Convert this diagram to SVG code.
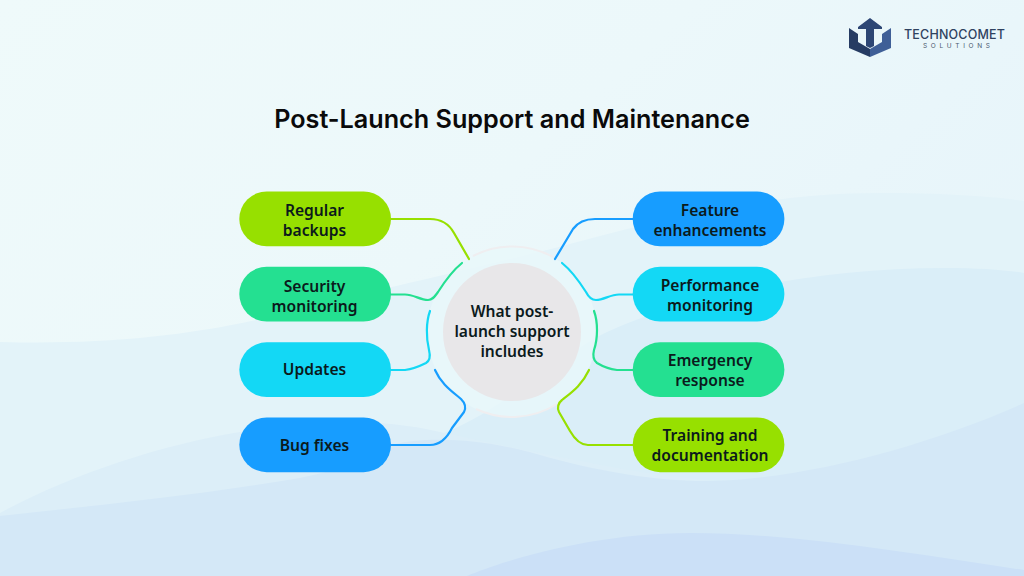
<svg xmlns="http://www.w3.org/2000/svg" width="1024" height="576" viewBox="0 0 1024 576">
<defs>
<linearGradient id="bg" x1="0" y1="0" x2="1" y2="0.6"><stop offset="0" stop-color="#effafa"/><stop offset="0.5" stop-color="#ecf8fa"/><stop offset="1" stop-color="#e6f4fa"/></linearGradient>
</defs>
<style>
.lbl{font-family:"Noto Sans","Liberation Sans",sans-serif;font-weight:600;font-size:15.6px;fill:#0b1a1c;text-anchor:middle}
.c{fill:none;stroke-width:2.2;stroke-linecap:round;stroke-linejoin:round}
.green{fill:#97e000}.teal{fill:#24e091}.cyan{fill:#13d8f5}.blue{fill:#179dff}
</style>
<rect width="1024" height="576" fill="url(#bg)"/>
<g id="background">
<path d="M0 342C110 345 200 335 290 312C400 284 470 270 555 248C650 222 760 193 880 193C940 193 990 196 1024 201V576H0Z" fill="#e3f3f9"/>
<path d="M0 560C160 520 330 470 433 437C490 418 540 372 597 337C660 305 790 268 945 268C980 268 1005 270 1024 273V576H0Z" fill="#daeef8"/>
<path d="M0 513C70 475 160 445 240 432C300 422 370 416 440 432C500 445 580 462 640 472L712 481C810 478 930 445 1024 403V576H0Z" fill="#dceef8"/>
<path d="M0 516C100 505 200 495 300 478C350 468 380 455 391 445C430 435 490 440 540 455C600 472 660 482 712 481C810 478 930 445 1024 403V576H0Z" fill="#d4e8f7"/>
<path d="M467 576C500 562 590 533 690 533C800 533 920 555 1024 570V576Z" fill="#cbe0f7"/>
</g>
<g id="title"><text x="512" y="127.500" font-family="Inter,'Liberation Sans',sans-serif" font-weight="600" font-size="25.2" fill="#0a0a0a" text-anchor="middle">Post-Launch Support and Maintenance</text></g>
<g id="logo">
<path d="M849 28L858 34V42L870 49V57L849 48Z" fill="#263c63"/>
<path d="M891 28L882 34V42L870 49V57L891 48Z" fill="#3f5f97"/>
<path d="M858 27L870 18L882 27V29H874V46L870 48L866 46V29H858Z" fill="#2d4674"/>
<text x="904" y="38.500" font-family="Inter,'Liberation Sans',sans-serif" font-weight="500" font-size="12.5" fill="#2f4260" textLength="101">TECHNOCOMET</text>
<text x="923" y="48" font-family="Inter,'Liberation Sans',sans-serif" font-size="6.500" fill="#4a5a70" textLength="67">SOLUTIONS</text>
</g>
<g id="center">
<circle cx="512" cy="332" r="85" fill="#e9f7fa" fill-opacity=".8"/>
<path d="M473 256A85 85 0 0 1 553 257M476 409A85 85 0 0 0 557 404" fill="none" stroke="#efeef0" stroke-width="2"/>
<circle cx="512" cy="332" r="69" fill="#e8e7e9"/>
<text class="lbl" x="512" y="317">What post-</text><text class="lbl" x="512" y="337">launch support</text><text class="lbl" x="512" y="357">includes</text>
</g>
<g id="connectors">
<path class="c" stroke="#97e000" d="M391 219H430C442 219 449 224 454 233L469 259"/>
<path class="c" stroke="#24e091" d="M391 294.500H405C414 294.500 420 300 428 300C433 300 435 296 438 292C445 281 452 271 462 263"/>
<path class="c" stroke="#13d8f5" d="M391 370H405C413 369 420 366 426 363C431 360 430 354 429 350C426 338 426 322 430 311"/>
<path class="c" stroke="#179dff" d="M391 445H430C440 445 447 438 452 428L464 412C466 408 465 403 461 399C453 392 441 384 435 370"/>
<path class="c" stroke="#179dff" d="M633 219H595C585 219 578 222 573 229L555 259"/>
<path class="c" stroke="#13d8f5" d="M633 294.500H619C610 294.500 604 300 596 300C591 300 588 296 586 292C579 281 572 271 562 263"/>
<path class="c" stroke="#24e091" d="M633 370H617C609 369 602 366 597 363C593 360 593 354 594 350C598 338 598 322 594 311"/>
<path class="c" stroke="#97e000" d="M633 445H588C580 445 574 438 570 431L559 412C557 408 558 403 562 400C572 392 582 385 589 370"/>
</g>
<g id="n-regular"><rect class="green" x="239.300" y="191.500" width="151.700" height="54.800" rx="27.400"/><text class="lbl" x="314.500" y="215.500">Regular</text><text class="lbl" x="314.500" y="235.500">backups</text></g>
<g id="n-security"><rect class="teal" x="239.300" y="266.700" width="151.700" height="54.800" rx="27.400"/><text class="lbl" x="314.500" y="292">Security</text><text class="lbl" x="314.500" y="312">monitoring</text></g>
<g id="n-updates"><rect class="cyan" x="239.300" y="342.300" width="151.700" height="54.800" rx="27.400"/><text class="lbl" x="314.500" y="375">Updates</text></g>
<g id="n-bugs"><rect class="blue" x="239.300" y="417.400" width="151.700" height="54.800" rx="27.400"/><text class="lbl" x="314.500" y="451">Bug fixes</text></g>
<g id="n-feature"><rect class="blue" x="632.700" y="191.500" width="151.700" height="54.800" rx="27.400"/><text class="lbl" x="710" y="215.500">Feature</text><text class="lbl" x="710" y="235.500">enhancements</text></g>
<g id="n-performance"><rect class="cyan" x="632.700" y="266.700" width="151.700" height="54.800" rx="27.400"/><text class="lbl" x="710" y="290.500">Performance</text><text class="lbl" x="710" y="310.500">monitoring</text></g>
<g id="n-emergency"><rect class="teal" x="632.700" y="342.300" width="151.700" height="54.800" rx="27.400"/><text class="lbl" x="710" y="366">Emergency</text><text class="lbl" x="710" y="386">response</text></g>
<g id="n-training"><rect class="green" x="632.700" y="417.400" width="151.700" height="54.800" rx="27.400"/><text class="lbl" x="710" y="441">Training and</text><text class="lbl" x="710" y="461">documentation</text></g>
</svg>
